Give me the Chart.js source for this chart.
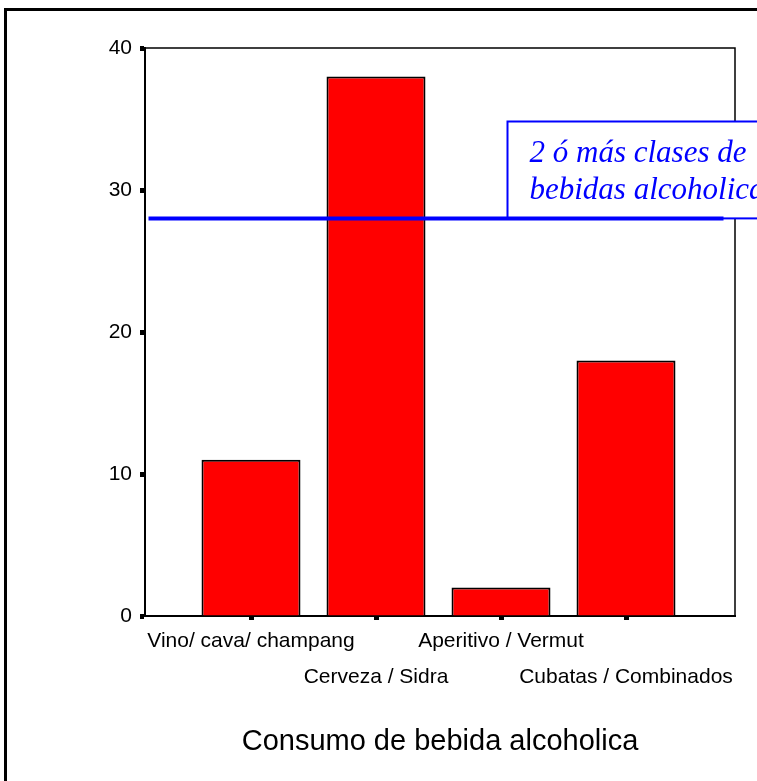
<!DOCTYPE html>
<html>
<head>
<meta charset="utf-8">
<script src="https://cdn.jsdelivr.net/npm/chart.js@4"></script>
<style>
  html, body { margin: 0; padding: 0; background: #fff; }
</style>
</head>
<body>
<canvas id="chart" width="757" height="781"></canvas>
<script>
const categories = ["Vino/ cava/ champang", "Cerveza / Sidra", "Aperitivo / Vermut", "Cubatas / Combinados"];
const counts = [11, 38, 2, 18];
const yTicks = [0, 10, 20, 30, 40];
const refLineValue = 28;
const refLineX = [-0.82, 3.78];
const noteLines = ["2 ó más clases de", "bebidas alcoholicas"];

const sans = '"Liberation Sans", Arial, sans-serif';

// outer frame, top/right border of the plot and the blue note box
const framePlugin = {
  id: "frame",
  beforeDraw(chart) {
    const ctx = chart.ctx;
    ctx.save();
    ctx.fillStyle = "#fff";
    ctx.fillRect(0, 0, chart.width, chart.height);
    ctx.strokeStyle = "#000";
    ctx.lineWidth = 3;
    ctx.strokeRect(5.5, 9.5, chart.width + 20, chart.height + 20);
    ctx.restore();
  },
  beforeDatasetsDraw(chart) {
    const { ctx, chartArea: a } = chart;
    const x = chart.scales.x;
    const y = chart.scales.y;
    ctx.save();
    ctx.strokeStyle = "#000";
    ctx.lineWidth = 1.5;
    ctx.beginPath();
    ctx.moveTo(a.left, a.top);
    ctx.lineTo(a.right, a.top);
    ctx.lineTo(a.right, a.bottom);
    ctx.stroke();

    const left = Math.round(x.getPixelForValue(2.05)) + 0.5;
    const top = Math.round(y.getPixelForValue(34.85)) + 0.5;
    const bottom = y.getPixelForValue(refLineValue);
    const w = chart.width - left + 20;
    ctx.fillStyle = "#fff";
    ctx.fillRect(left, top, w, bottom - top);
    ctx.strokeStyle = "#0000ff";
    ctx.lineWidth = 2;
    ctx.strokeRect(left, top, w, bottom - top);
    ctx.fillStyle = "#0000ff";
    ctx.font = 'italic 31px "Liberation Serif", "Times New Roman", serif';
    ctx.textBaseline = "alphabetic";
    ctx.textAlign = "left";
    ctx.fillText(noteLines[0], left + 22, top + 40);
    ctx.fillText(noteLines[1], left + 22, top + 77);
    ctx.restore();
  },
};

new Chart(document.getElementById("chart"), {
  type: "bar",
  data: {
    datasets: [
      {
        type: "line",
        label: "ref",
        data: refLineX.map((x) => ({ x: x, y: refLineValue })),
        borderColor: "#0000ff",
        borderWidth: 4,
        pointRadius: 0,
        order: 0,
      },
      {
        label: "Consumo",
        data: counts.map((v, i) => ({ x: i, y: v })),
        backgroundColor: "#ff0000",
        borderColor: "#000",
        borderWidth: 2,
        barPercentage: 0.99,
        categoryPercentage: 0.8,
        order: 1,
      },
    ],
  },
  options: {
    responsive: false,
    animation: false,
    devicePixelRatio: 1,
    layout: { padding: { left: 0, right: 22, top: 48, bottom: 0 } },
    plugins: {
      legend: { display: false },
      tooltip: { enabled: false },
    },
    scales: {
      x: {
        type: "linear",
        min: -0.848,
        max: 3.872,
        offset: false,
        afterBuildTicks(scale) {
          scale.ticks = categories.map((c, i) => ({ value: i }));
        },
        afterFit(scale) {
          scale.height = 165;
        },
        ticks: {
          autoSkip: false,
          maxRotation: 0,
          minRotation: 0,
          padding: 3,
          color: "#000",
          font: { family: sans, size: 21, lineHeight: "36px" },
          callback: function (value) {
            const i = Math.round(value);
            return i % 2 === 0 ? [categories[i], ""] : ["", categories[i]];
          },
        },
        grid: {
          offset: false,
          drawOnChartArea: false,
          tickLength: 4,
          tickWidth: 5,
          tickColor: "#000",
        },
        border: { color: "#000", width: 2 },
        title: {
          display: true,
          text: "Consumo de bebida alcoholica",
          color: "#000",
          font: { family: sans, size: 29 },
          padding: { top: 0, bottom: 22 },
        },
      },
      y: {
        min: 0,
        max: 40,
        afterBuildTicks(scale) {
          scale.ticks = yTicks.map((v) => ({ value: v }));
        },
        afterFit(scale) {
          scale.width = 145;
        },
        ticks: {
          padding: 8,
          color: "#000",
          font: { family: sans, size: 21 },
        },
        grid: {
          drawOnChartArea: false,
          tickLength: 5,
          tickWidth: 5,
          tickColor: "#000",
        },
        border: { color: "#000", width: 2 },
      },
    },
  },
  plugins: [framePlugin],
});
</script>
</body>
</html>
